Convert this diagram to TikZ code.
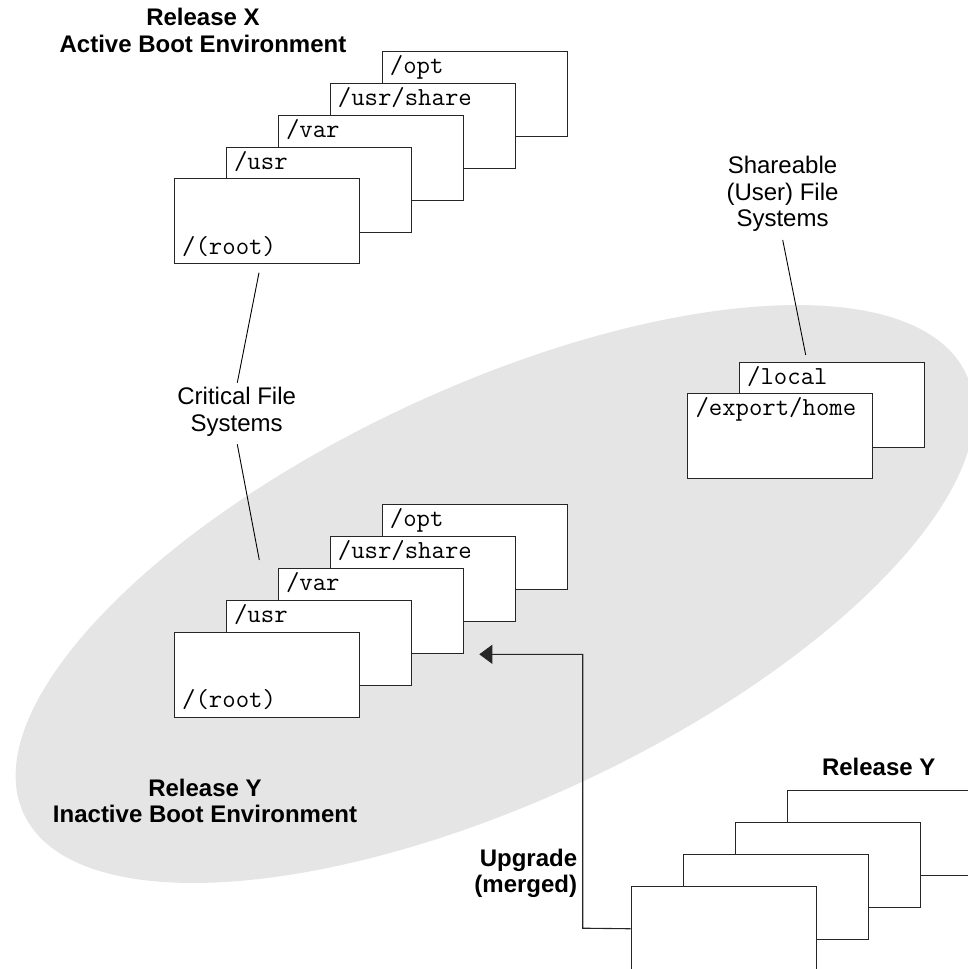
\documentclass[tikz,border=0pt]{standalone}
\usepackage{fontspec}
\setmainfont{Liberation Sans}
\usetikzlibrary{arrows.meta,calc}
\begin{document}
\begin{tikzpicture}[x=1pt,y=-1pt,
  fsbox/.style={draw=black!85, line width=1.1pt, fill=white, minimum width=185pt, minimum height=85pt, inner sep=0pt, anchor=north west},
  fstext/.style={anchor=base west, inner sep=0pt, font=\ttfamily\fontsize{26}{28}\selectfont},
  lbl/.style={align=center, inner sep=0pt, font=\fontsize{24}{26.5}\selectfont},
  blbl/.style={align=center, inner sep=0pt, font=\bfseries\fontsize{24}{26.5}\selectfont},
  lead/.style={line width=0.9pt, black}]
\useasboundingbox (0,0) rectangle (968,969);
\clip (0,0) rectangle (968,969);
% gray ellipse (inactive boot environment)
\fill[gray!20, rotate around={25:(495,594)}] (495,594) ellipse [x radius=520, y radius=207];

% Release X stack
\node[fsbox] (xopt) at (381.7,50.7) {};
\node[fstext] (xoptt) at ($(xopt.north west)+(8,22.6)$) {/opt};
\node[fsbox] (xshare) at (329.7,82.7) {};
\node[fstext] (xsharet) at ($(xshare.north west)+(8,22.6)$) {/usr/share};
\node[fsbox] (xvar) at (277.8,114.6) {};
\node[fstext] (xvart) at ($(xvar.north west)+(8,22.6)$) {/var};
\node[fsbox] (xusr) at (225.9,146.5) {};
\node[fstext] (xusrt) at ($(xusr.north west)+(8,22.6)$) {/usr};
\node[fsbox] (xroot) at (174,178.3) {};
\node[fstext] (xroott) at ($(xroot.south west)+(8,-10)$) {/(root)};

% Release Y (inactive) stack
\node[fsbox] (iopt) at (381.7,504) {};
\node[fstext] (ioptt) at ($(iopt.north west)+(8,22.6)$) {/opt};
\node[fsbox] (ishare) at (329.7,536) {};
\node[fstext] (isharet) at ($(ishare.north west)+(8,22.6)$) {/usr/share};
\node[fsbox] (ivar) at (277.8,567.9) {};
\node[fstext] (ivart) at ($(ivar.north west)+(8,22.6)$) {/var};
\node[fsbox] (iusr) at (225.9,599.8) {};
\node[fstext] (iusrt) at ($(iusr.north west)+(8,22.6)$) {/usr};
\node[fsbox] (iroot) at (174,631.7) {};
\node[fstext] (iroott) at ($(iroot.south west)+(8,-10)$) {/(root)};

% Shareable file systems
\node[fsbox] (local) at (739,361.7) {};
\node[fstext] (localt) at ($(local.north west)+(8,22.6)$) {/local};
\node[fsbox] (home) at (687.3,392.7) {};
\node[fstext] (homet) at ($(home.north west)+(8,22.6)$) {/export/home};

% Release Y stack (new release)
\node[fsbox] (y4) at (786.7,790) {};
\node[fsbox] (y3) at (734.5,822) {};
\node[fsbox] (y2) at (682.5,854) {};
\node[fsbox] (y1) at (630.7,885.7) {};

% labels
\node[blbl] (relx) at (203,30.3) {Release X\\Active Boot Environment};
\node[lbl] (share) at (782.5,194) {Shareable\\(User) File\\Systems};
\node[lbl] (crit) at (236.7,411.7) {Critical File\\Systems};
\node[blbl] (relyin) at (205,801) {Release Y\\Inactive Boot Environment};
\node[blbl] (rely) at (878.7,766.7) {Release Y};
\node[blbl, align=right, anchor=east] (upg) at (577.3,873.3) {Upgrade\\(merged)};

% leader lines
\coordinate (c1a) at (259,272.7);
\coordinate (c1b) at (237.3,382.7);
\coordinate (c2a) at (237.3,444.3);
\coordinate (c2b) at (259.3,560);
\coordinate (s1a) at (782.7,240);
\coordinate (s1b) at (805.7,355);
\draw[lead] (c1a) -- (c1b);
\draw[lead] (c2a) -- (c2b);
\draw[lead] (s1a) -- (s1b);

% upgrade arrow
\coordinate (atip) at (479.3,654.3);
\coordinate (abend1) at (582.7,928.2);
\coordinate (abend2) at (582.7,654.3);
\draw[line width=1.1pt, black!85, -{Triangle[length=13pt,width=19pt]}] (y1.west) -- (abend1) -- (abend2) -- (atip);
\end{tikzpicture}
\end{document}
